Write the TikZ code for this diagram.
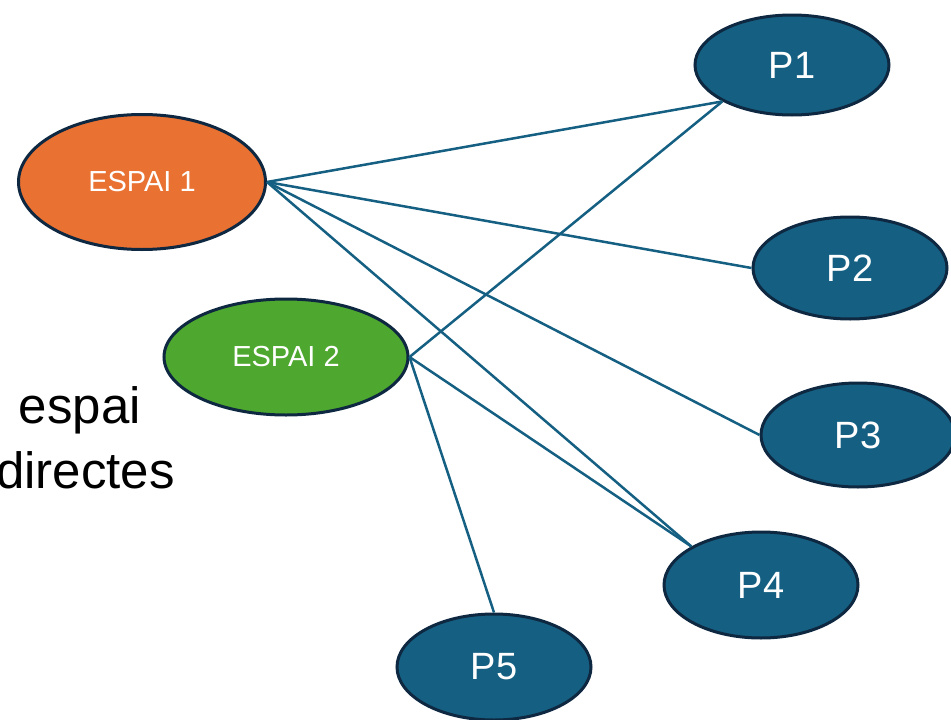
\documentclass[tikz,border=0pt]{standalone}
\usepackage{fontspec}
\setmainfont{Liberation Sans}
\usetikzlibrary{shapes.geometric}
\definecolor{orangeE}{HTML}{E97132}
\definecolor{greenE}{HTML}{4EA72E}
\definecolor{blueP}{HTML}{156082}
\definecolor{rimC}{HTML}{0E2841}

\begin{document}
\begin{tikzpicture}[x=1pt,y=-1pt,
  space/.style={ellipse,draw=rimC,line width=3pt,inner sep=0pt,text=white,
    font=\fontsize{29}{34}\selectfont},
  person/.style={ellipse,draw=rimC,line width=3pt,inner sep=0pt,text=white,
    fill=blueP,minimum width=194pt,font=\fontsize{38}{44}\selectfont},
  link/.style={draw=blueP,line width=2.5pt}]
\useasboundingbox (0,0) rectangle (951,720);

\node[anchor=base east,inner sep=0pt,font=\fontsize{51}{60}\selectfont] (L1) at (141,423) {espai};
\node[anchor=base east,inner sep=0pt,font=\fontsize{51}{60}\selectfont] (L2) at (175,488) {directes};

\node[space,fill=orangeE,minimum width=247pt,minimum height=135pt] (E1) at (142,182) {ESPAI 1};
\node[space,fill=greenE,minimum width=244pt,minimum height=116pt] (E2) at (286,357) {ESPAI 2};

\node[person,minimum height=100pt] (P1) at (792,65) {P1};
\node[person,minimum height=102pt] (P2) at (850,268) {P2};
\node[person,minimum height=104pt] (P3) at (858,435) {P3};
\node[person,minimum height=106pt] (P4) at (761,585) {P4};
\node[person,minimum height=106pt] (P5) at (494,667) {P5};

\draw[link] (E1.east) to (P1.south west);
\draw[link] (E1.east) to (P2.west);
\draw[link] (E1.east) to (P3.west);
\draw[link] (E1.east) to (P4.north west);
\draw[link] (E2.east) to (P1.south west);
\draw[link] (E2.east) to (P4.north west);
\draw[link] (E2.east) to (P5.north);

\end{tikzpicture}
\end{document}
